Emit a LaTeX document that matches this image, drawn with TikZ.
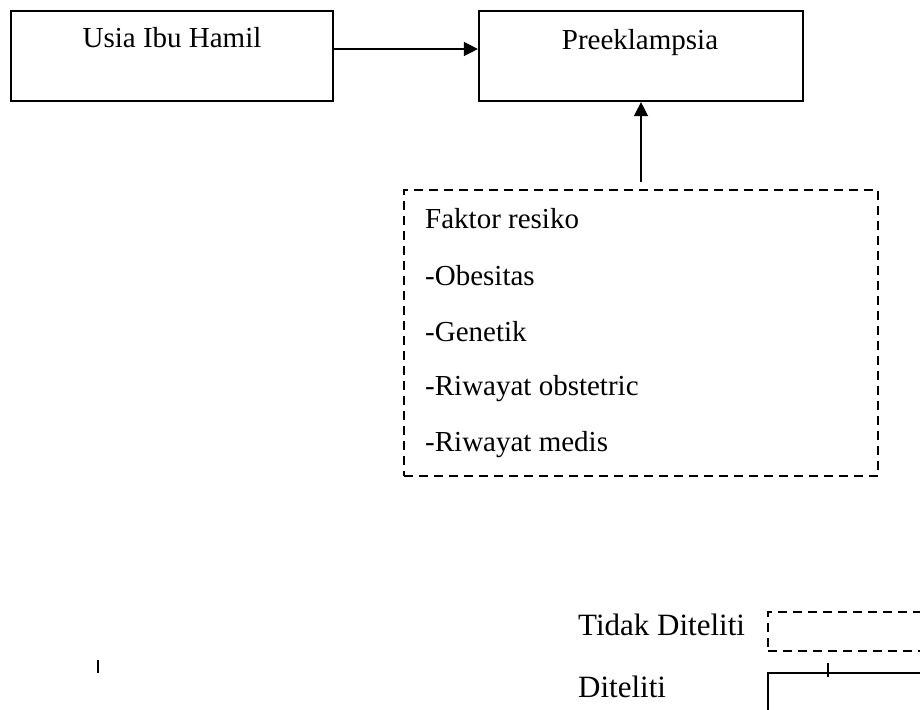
\documentclass[tikz,border=0pt]{standalone}
\usepackage{fontspec}
\setmainfont{Liberation Serif}
\usetikzlibrary{arrows.meta}
\begin{document}
\begin{tikzpicture}[x=1pt,y=-1pt,
  solidbox/.style={draw,line width=2.2pt},
  dashbox/.style={draw,line width=2.2pt,dash pattern=on 9pt off 6pt},
  txt/.style={font=\fontsize{29}{34}\selectfont,inner sep=0pt,anchor=base west},
  ctxt/.style={font=\fontsize{29}{34}\selectfont,inner sep=0pt,anchor=base},
  lgtxt/.style={font=\fontsize{31}{36}\selectfont,inner sep=0pt,anchor=base west},
  conn/.style={line width=1.4pt,-{Triangle[length=14pt,width=14pt]}}]
\useasboundingbox (0,0) rectangle (920,709);
\clip (0,0) rectangle (920,709);
% boxes
\node[solidbox,minimum width=322pt,minimum height=90pt,inner sep=0pt] (usia) at (172,56) {};
\node[ctxt] (usiat) at (172,48) {Usia Ibu Hamil};
\node[solidbox,minimum width=324pt,minimum height=90pt,inner sep=0pt] (pre) at (641,56) {};
\node[ctxt] (pret) at (640,49) {Preeklampsia};
\node[dashbox,minimum width=474pt,minimum height=286pt,inner sep=0pt] (fr) at (641,333) {};
\node[txt] (f1) at (425,228) {Faktor resiko};
\node[txt] (f2) at (425,285) {-Obesitas};
\node[txt] (f3) at (425,341) {-Genetik};
\node[txt] (f4) at (425,395) {-Riwayat obstetric};
\node[txt] (f5) at (425,451) {-Riwayat medis};
% connectors
\draw[conn] (usia.east |- 0,49) -- (pre.west |- 0,49);
\draw[conn,shorten <=7pt] (fr.north) -- (pre.south);
% legend
\node[lgtxt] (l1) at (578,635) {Tidak Diteliti};
\node[lgtxt] (l2) at (578,697) {Diteliti};
\node[dashbox,minimum width=200pt,minimum height=39pt,inner sep=0pt,anchor=north west] (ld) at (767,611) {};
\node[solidbox,minimum width=200pt,minimum height=80pt,inner sep=0pt,anchor=north west] (ls) at (767,672) {};
\coordinate (t1a) at (828,663);
\coordinate (t1b) at (828,677);
\draw[line width=1.2pt] (t1a) -- (t1b);
\coordinate (t2a) at (98,660);
\coordinate (t2b) at (98,673);
\draw[line width=1.4pt] (t2a) -- (t2b);
\end{tikzpicture}
\end{document}
